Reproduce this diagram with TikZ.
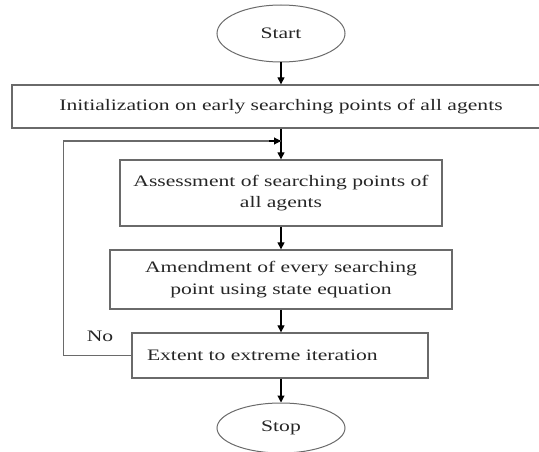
\documentclass[tikz,border=0pt]{standalone}
\usepackage{fontspec}
\setmainfont[FakeStretch=1.35]{Liberation Serif}
\usetikzlibrary{shapes.geometric,arrows.meta}
\definecolor{boxline}{HTML}{6A6A6A}
\definecolor{txt}{HTML}{262626}
\begin{document}
\begin{tikzpicture}[x=1pt,y=-1pt,
  every node/.style={font=\fontsize{16pt}{21.5pt}\selectfont, text=txt},
  flowbox/.style={draw=boxline, line width=1.3pt, rectangle, inner sep=0pt, align=center},
  term/.style={draw=boxline, line width=1pt, ellipse, inner sep=0pt},
  arr/.style={draw=black, line width=1.1pt, -{Triangle[width=7pt,length=7pt]}},
  lnk/.style={draw=boxline, line width=1.3pt}
]
\useasboundingbox (0,0) rectangle (539,452);
\node[term, minimum width=128pt, minimum height=57pt] (start) at (281,33.5) {Start};
\node[flowbox, minimum width=538pt, minimum height=43pt] (init) at (281,106.5) {Initialization on early searching points of all agents};
\node[flowbox, minimum width=322pt, minimum height=66pt] (assess) at (281,193) {Assessment of searching points of\\all agents};
\node[flowbox, minimum width=342pt, minimum height=59pt] (amend) at (281,279.5) {Amendment of every searching\\point using state equation};
\node[flowbox, minimum width=296pt, minimum height=45pt, text width=266pt, inner xsep=15pt, align=left] (extent) at (280,355.5) {Extent to extreme iteration};
\node[term, minimum width=128pt, minimum height=50pt] (stop) at (281,428) {Stop};
\node (no) at (100,336) {No};
\coordinate (join) at (281,141);
\coordinate (lb) at (63.5,355.5);
\coordinate (lt) at (63.5,141);

\draw[arr] (start) -- (init);
\draw[arr] (init) -- (assess);
\draw[arr] (assess) -- (amend);
\draw[arr] (amend) -- (extent.north -| amend.south);
\draw[arr] (extent.south -| stop.north) -- (stop);
\draw[lnk] (extent.west) -- (lb) -- (lt) -- (join);
\draw[arr] ([xshift=-12pt]join) -- (join);
\end{tikzpicture}
\end{document}
